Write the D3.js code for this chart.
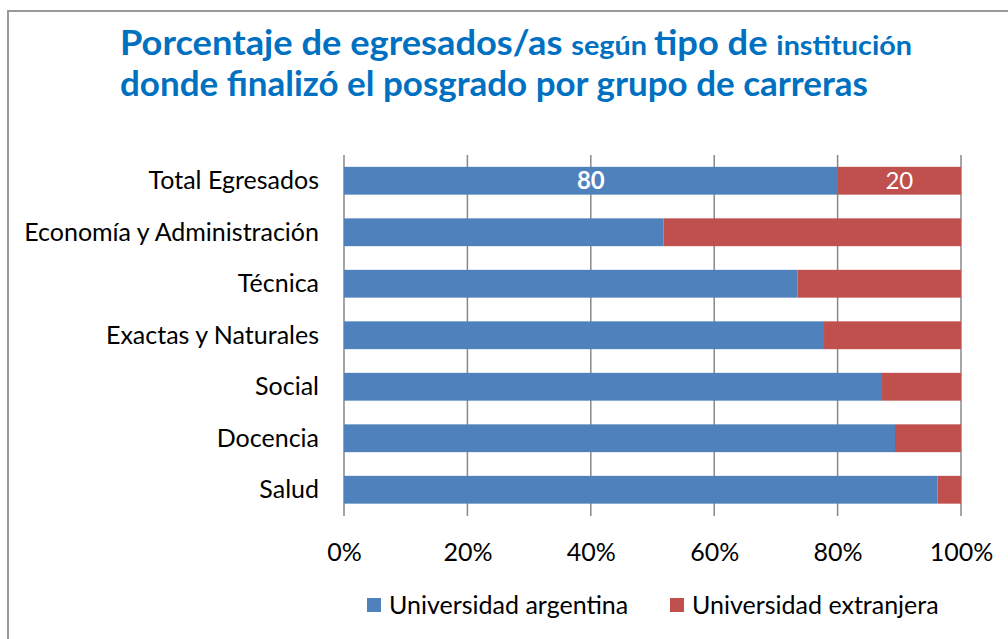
<!DOCTYPE html>
<html><head><meta charset="utf-8">
<script src="https://cdn.jsdelivr.net/npm/d3@7"></script>
<style>body{margin:0;background:#fff}svg{display:block}text{font-family:Lato,"Noto Sans",sans-serif}</style>
</head><body>
<script>
const categories = ["Total Egresados","Economía y Administración","Técnica","Exactas y Naturales","Social","Docencia","Salud"];
const argentina = [80, 51.8, 73.5, 77.8, 87.2, 89.3, 96.2];
const extranjera = argentina.map(v => +(100 - v).toFixed(1));
const seriesNames = ["Universidad argentina","Universidad extranjera"];
const colors = ["#4F81BD","#C0504D"];
const xTicks = [0,0.2,0.4,0.6,0.8,1];

const W = 1008, H = 639;
const FS = 25;
const svg = d3.select("body").append("svg").attr("width", W).attr("height", H);

// frame
svg.append("path").attr("d", `M8,${H} V11 H${W}`).attr("fill","none").attr("stroke","#999").attr("stroke-width",2);

// title
const title = svg.append("g").attr("fill","#0070C0").attr("font-weight","bold");
const t1 = title.append("text").attr("x",120).attr("y",55);
[["Porcentaje de egresados/as ",34],["según ",27],["tipo de ",34],["institución",27]].forEach(([s,f]) =>
  t1.append("tspan").attr("font-size",f).text(s));
t1.attr("textLength",792).attr("lengthAdjust","spacingAndGlyphs");
title.append("text").attr("x",120).attr("y",96).attr("font-size",34)
  .attr("textLength",748).attr("lengthAdjust","spacingAndGlyphs")
  .text("donde finalizó el posgrado por grupo de carreras");

const x = d3.scaleLinear().domain([0,1]).range([344,961]);
const y = d3.scaleBand().domain(categories).range([155,515.5]).paddingInner(0.46).paddingOuter(0.23);

// gridlines
svg.append("g").selectAll("line").data(xTicks).join("line")
  .attr("x1",d=>x(d)).attr("x2",d=>x(d)).attr("y1",155).attr("y2",516)
  .attr("stroke","#888").attr("stroke-width",1.5);

const stackData = categories.map((c,i)=>({cat:c, a:argentina[i]/100, e:extranjera[i]/100}));
const stack = d3.stack().keys(["a","e"])(stackData);
svg.append("g").selectAll("g").data(stack).join("g").attr("fill",(d,i)=>colors[i])
  .selectAll("rect").data(d=>d).join("rect")
  .attr("x",d=>x(d[0])).attr("width",d=>x(d[1])-x(d[0]))
  .attr("y",d=>y(d.data.cat)).attr("height",y.bandwidth());

// data labels on first row
const t0 = categories[0];
svg.append("text").attr("x",(x(0)+x(argentina[0]/100))/2).attr("y",y(t0)+y.bandwidth()/2+8.5)
  .attr("text-anchor","middle").attr("fill","#fff").attr("font-size",24).attr("font-weight","bold").text(argentina[0]);
svg.append("text").attr("x",(x(argentina[0]/100)+x(1))/2).attr("y",y(t0)+y.bandwidth()/2+8.5)
  .attr("text-anchor","middle").attr("fill","#fff").attr("font-size",24).text(extranjera[0]);

// y axis labels
svg.append("g").selectAll("text").data(categories).join("text")
  .attr("x",319).attr("y",d=>y(d)+y.bandwidth()/2+8.5).attr("text-anchor","end")
  .attr("font-size",FS).attr("fill","#000").text(d=>d);

// x axis
const xAxis = svg.append("g").attr("transform","translate(0,516)")
  .call(d3.axisBottom(x).tickValues(xTicks).tickFormat(d3.format(".0%")).tickSize(0).tickPadding(27));
xAxis.select(".domain").remove();
xAxis.selectAll("text").attr("font-size",FS).attr("fill","#000").attr("font-family","Lato, sans-serif");

// legend
const leg = svg.append("g");
const legX = [367, 670];
seriesNames.forEach((n,i)=>{
  leg.append("rect").attr("x",legX[i]).attr("y",598).attr("width",14).attr("height",14).attr("fill",colors[i]);
  leg.append("text").attr("x",legX[i]+22).attr("y",614).attr("font-size",FS).attr("fill","#000").text(n);
});
</script>
</body></html>
